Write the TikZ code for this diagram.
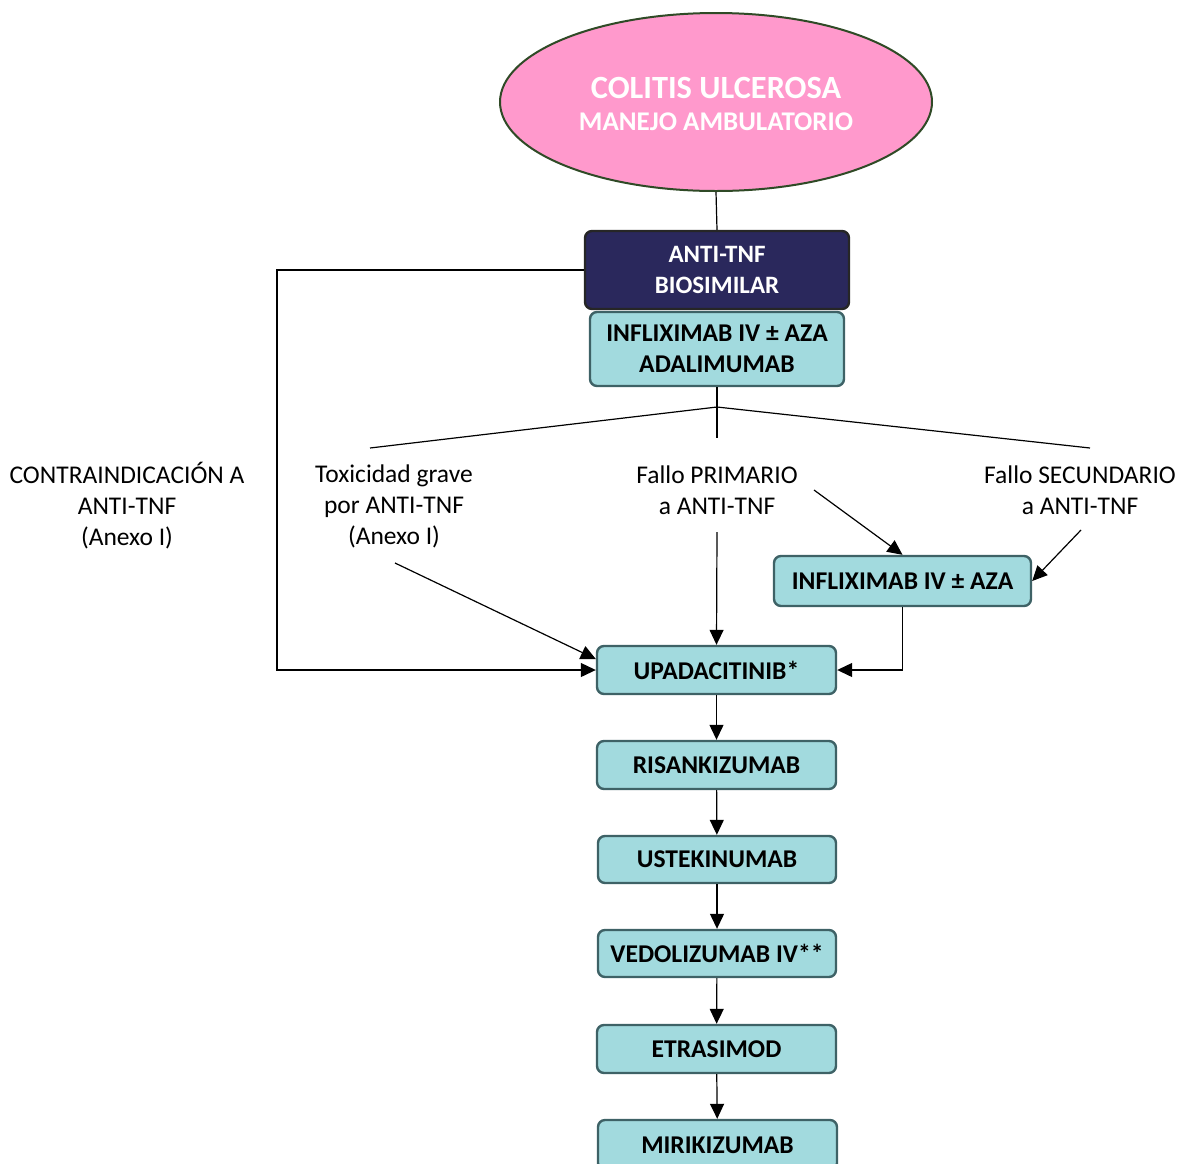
\documentclass[tikz,border=0pt]{standalone}
\usepackage{fontspec}
\setmainfont{Carlito}
\usetikzlibrary{arrows.meta,shapes.geometric,calc}
\definecolor{pinkfill}{HTML}{FF99CC}
\definecolor{ellborder}{HTML}{2F4A26}
\definecolor{navy}{HTML}{2A285C}
\definecolor{tealfill}{HTML}{A2DADE}
\definecolor{tealborder}{HTML}{3E6266}
\tikzset{
  drug/.style={draw=tealborder, fill=tealfill, line width=2.4pt, rounded corners=7pt,
    inner sep=0pt, align=center, font=\fontsize{25.6}{31}\selectfont\bfseries},
  lbl/.style={align=center, inner sep=0pt, font=\fontsize{25.5}{31}\selectfont},
  conn/.style={line width=1.2pt, black},
  arr/.style={conn, -{Triangle[length=15pt,width=14pt]}},
}
\begin{document}
\begin{tikzpicture}[x=1pt,y=-1pt]
\useasboundingbox (0,0) rectangle (1178,1163);
% title ellipse
\node[ellipse, draw=ellborder, fill=pinkfill, line width=2pt, minimum width=432pt, minimum height=178pt, inner sep=0pt] (title) at (716,102) {};
\node[font=\fontsize{32.4}{36}\selectfont\bfseries, text=white, inner sep=0pt] (t1) at (716,88) {COLITIS ULCEROSA};
\node[font=\fontsize{27}{30}\selectfont\bfseries, text=white, inner sep=0pt] (t2) at (716,122) {MANEJO AMBULATORIO};
% anti-TNF box
\node[draw=black!85, fill=navy, line width=2.4pt, rounded corners=7pt, minimum width=264pt, minimum height=78pt, inner sep=0pt, align=center, text=white, font=\fontsize{25}{31}\selectfont\bfseries] (anti) at (717,270) {ANTI-TNF\\[0pt]BIOSIMILAR};
\node[drug, minimum width=254pt, minimum height=74pt] (inf1) at (717,349) {INFLIXIMAB IV ± AZA\\ADALIMUMAB};
% labels
\node[lbl] (contra) at (127,506) {CONTRAINDICACIÓN A\\ANTI-TNF\\(Anexo I)};
\node[lbl] (tox) at (394,506) {Toxicidad grave\\por ANTI-TNF\\(Anexo I)};
\node[lbl] (prim) at (717,490) {Fallo PRIMARIO\\a ANTI-TNF};
\node[lbl] (sec) at (1080,490) {Fallo SECUNDARIO\\a ANTI-TNF};
% drug boxes
\node[drug, minimum width=257pt, minimum height=50pt] (inf2) at (902.5,581) {INFLIXIMAB IV ± AZA};
\node[drug, minimum width=239pt, minimum height=48pt] (upa) at (716.5,670) {UPADACITINIB*};
\node[drug, minimum width=239pt, minimum height=48pt] (ris) at (716.5,765) {RISANKIZUMAB};
\node[drug, minimum width=238pt, minimum height=47pt] (ust) at (717,859.5) {USTEKINUMAB};
\node[drug, minimum width=238pt, minimum height=47pt] (ved) at (717,953.5) {VEDOLIZUMAB IV**};
\node[drug, minimum width=239pt, minimum height=48pt] (etr) at (716.5,1049) {ETRASIMOD};
\node[drug, minimum width=239pt, minimum height=50pt] (mir) at (717.5,1145) {MIRIKIZUMAB};
% coordinates
\coordinate (junc) at (717,407);
\coordinate (trunkend) at (717,438);
\coordinate (brL) at (370,448);
\coordinate (brR) at (1090,448);
\coordinate (leftx) at (277,270);
\coordinate (toxs) at (395,563);
\coordinate (prims) at (717,532);
\coordinate (primr) at (814,490);
\coordinate (secs) at (1081,530);
% connectors
\draw[conn] (title.south) -- (anti.north);
\draw[conn] (inf1.south) -- (trunkend);
\draw[conn] (brL) -- (junc) -- (brR);
\draw[arr] (anti.west) -- (leftx) |- (upa.west);
\draw[arr] (toxs) -- ([yshift=11pt]upa.west);
\draw[arr] (prims) -- (upa.north);
\draw[arr] (primr) -- (inf2.north);
\draw[arr] (secs) -- (inf2.east);
\draw[arr] (inf2.south) |- (upa.east);
\draw[arr] (upa) -- (ris);
\draw[arr] (ris) -- (ust);
\draw[arr] (ust) -- (ved);
\draw[arr] (ved) -- (etr);
\draw[arr] (etr) -- (mir);
\end{tikzpicture}
\end{document}
